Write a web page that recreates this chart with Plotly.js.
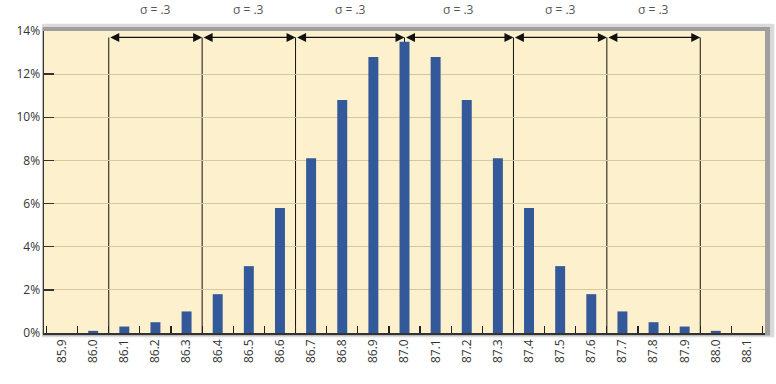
<!DOCTYPE html>
<html>
<head>
<meta charset="utf-8">
<script src="https://cdn.plot.ly/plotly-3.0.1.min.js"></script>
<style>html,body{margin:0;padding:0;background:#fff;}#chart{width:776px;height:384px;}</style>
</head>
<body>
<div id="chart"></div>
<script>
// Categories (measurement values)
const categories = ["85.9","86.0","86.1","86.2","86.3","86.4","86.5","86.6","86.7","86.8","86.9","87.0","87.1","87.2","87.3","87.4","87.5","87.6","87.7","87.8","87.9","88.0","88.1"];
// Percent of observations
const percents = [0, 0.1, 0.3, 0.5, 1.0, 1.8, 3.1, 5.8, 8.1, 10.8, 12.8, 13.5, 12.8, 10.8, 8.1, 5.8, 3.1, 1.8, 1.0, 0.5, 0.3, 0.1, 0];
// Sigma boundary positions (in measurement units)
const sigmaBounds = [86.05, 86.35, 86.65, 87.0, 87.35, 87.65, 87.95];
const sigmaLabel = "σ = .3";
const yTicks = [0, 2, 4, 6, 8, 10, 12, 14];
const yTickLabels = ["0%", "2%", "4%", "6%", "8%", "10%", "12%", "14%"];

const first = parseFloat(categories[0]);
const toIdx = v => (v - first) / 0.1;
const idx = sigmaBounds.map(toIdx);
const arrowY = 13.7;

const shapes = [
  // drop shadow behind the plot area
  {type:'rect', xref:'paper', yref:'paper', x0:-0.003, x1:1.013, y0:-0.014, y1:1.024, layer:'below', line:{width:0}, fillcolor:'rgba(150,150,150,0.35)'},
  {type:'rect', xref:'paper', yref:'paper', x0:-0.002, x1:1.007, y0:-0.008, y1:1.013, layer:'below', line:{width:0}, fillcolor:'rgba(100,100,100,0.5)'},
  // plot background
  {type:'rect', xref:'paper', yref:'paper', x0:0, x1:1, y0:0, y1:1, layer:'below', line:{width:0}, fillcolor:'#fdf0cc'}
];
idx.forEach(x => shapes.push({type:'line', xref:'x', yref:'y', x0:x, x1:x, y0:0, y1:arrowY, line:{color:'#111', width:1}, layer:'below'}));

const annotations = [];
for (let i = 0; i < idx.length - 1; i++) {
  annotations.push({x: idx[i+1], y: arrowY, ax: idx[i], ay: arrowY, axref:'x', ayref:'y', xref:'x', yref:'y',
    text:'', showarrow:true, arrowhead:2, startarrowhead:2, arrowside:'end+start', arrowsize:1.5, startarrowsize:1.5, arrowwidth:1.2, arrowcolor:'#111'});
  annotations.push({x:(idx[i]+idx[i+1])/2, y:1.07, xref:'x', yref:'paper', text:sigmaLabel, showarrow:false,
    font:{family:'Open Sans, sans-serif', size:12, color:'#555'}, yanchor:'middle'});
}

const data = [{
  type:'bar', x: categories, y: percents,
  marker:{color:'#34599b', line:{color:'#1d3461', width:0}},
  hoverinfo:'skip'
}];

const layout = {
  width:776, height:384,
  margin:{l:44, r:11, t:31, b:51},
  paper_bgcolor:'#ffffff',
  plot_bgcolor:'rgba(0,0,0,0)',
  bargap:0.68,
  showlegend:false,
  font:{family:'Open Sans, sans-serif', color:'#333'},
  xaxis:{type:'category', range:[-0.58, 22.58], tickangle:-90, tickfont:{size:12, color:'#333'},
    ticks:'inside', tickson:'boundaries', ticklen:7, tickcolor:'#222', tickwidth:1.2,
    showline:true, linecolor:'#333', linewidth:1.5, showgrid:false, fixedrange:true},
  yaxis:{range:[0,14], tickmode:'array', tickvals:yTicks, ticktext:yTickLabels, tickfont:{size:12, color:'#333'},
    ticks:'inside', ticklen:10, tickcolor:'#333', tickwidth:1.5,
    showline:true, linecolor:'#333', linewidth:1.5, showgrid:true, gridcolor:'#d8c79c', gridwidth:1,
    zeroline:false, fixedrange:true},
  shapes: shapes,
  annotations: annotations
};

Plotly.newPlot('chart', data, layout, {displayModeBar:false, staticPlot:true});
</script>
</body>
</html>
